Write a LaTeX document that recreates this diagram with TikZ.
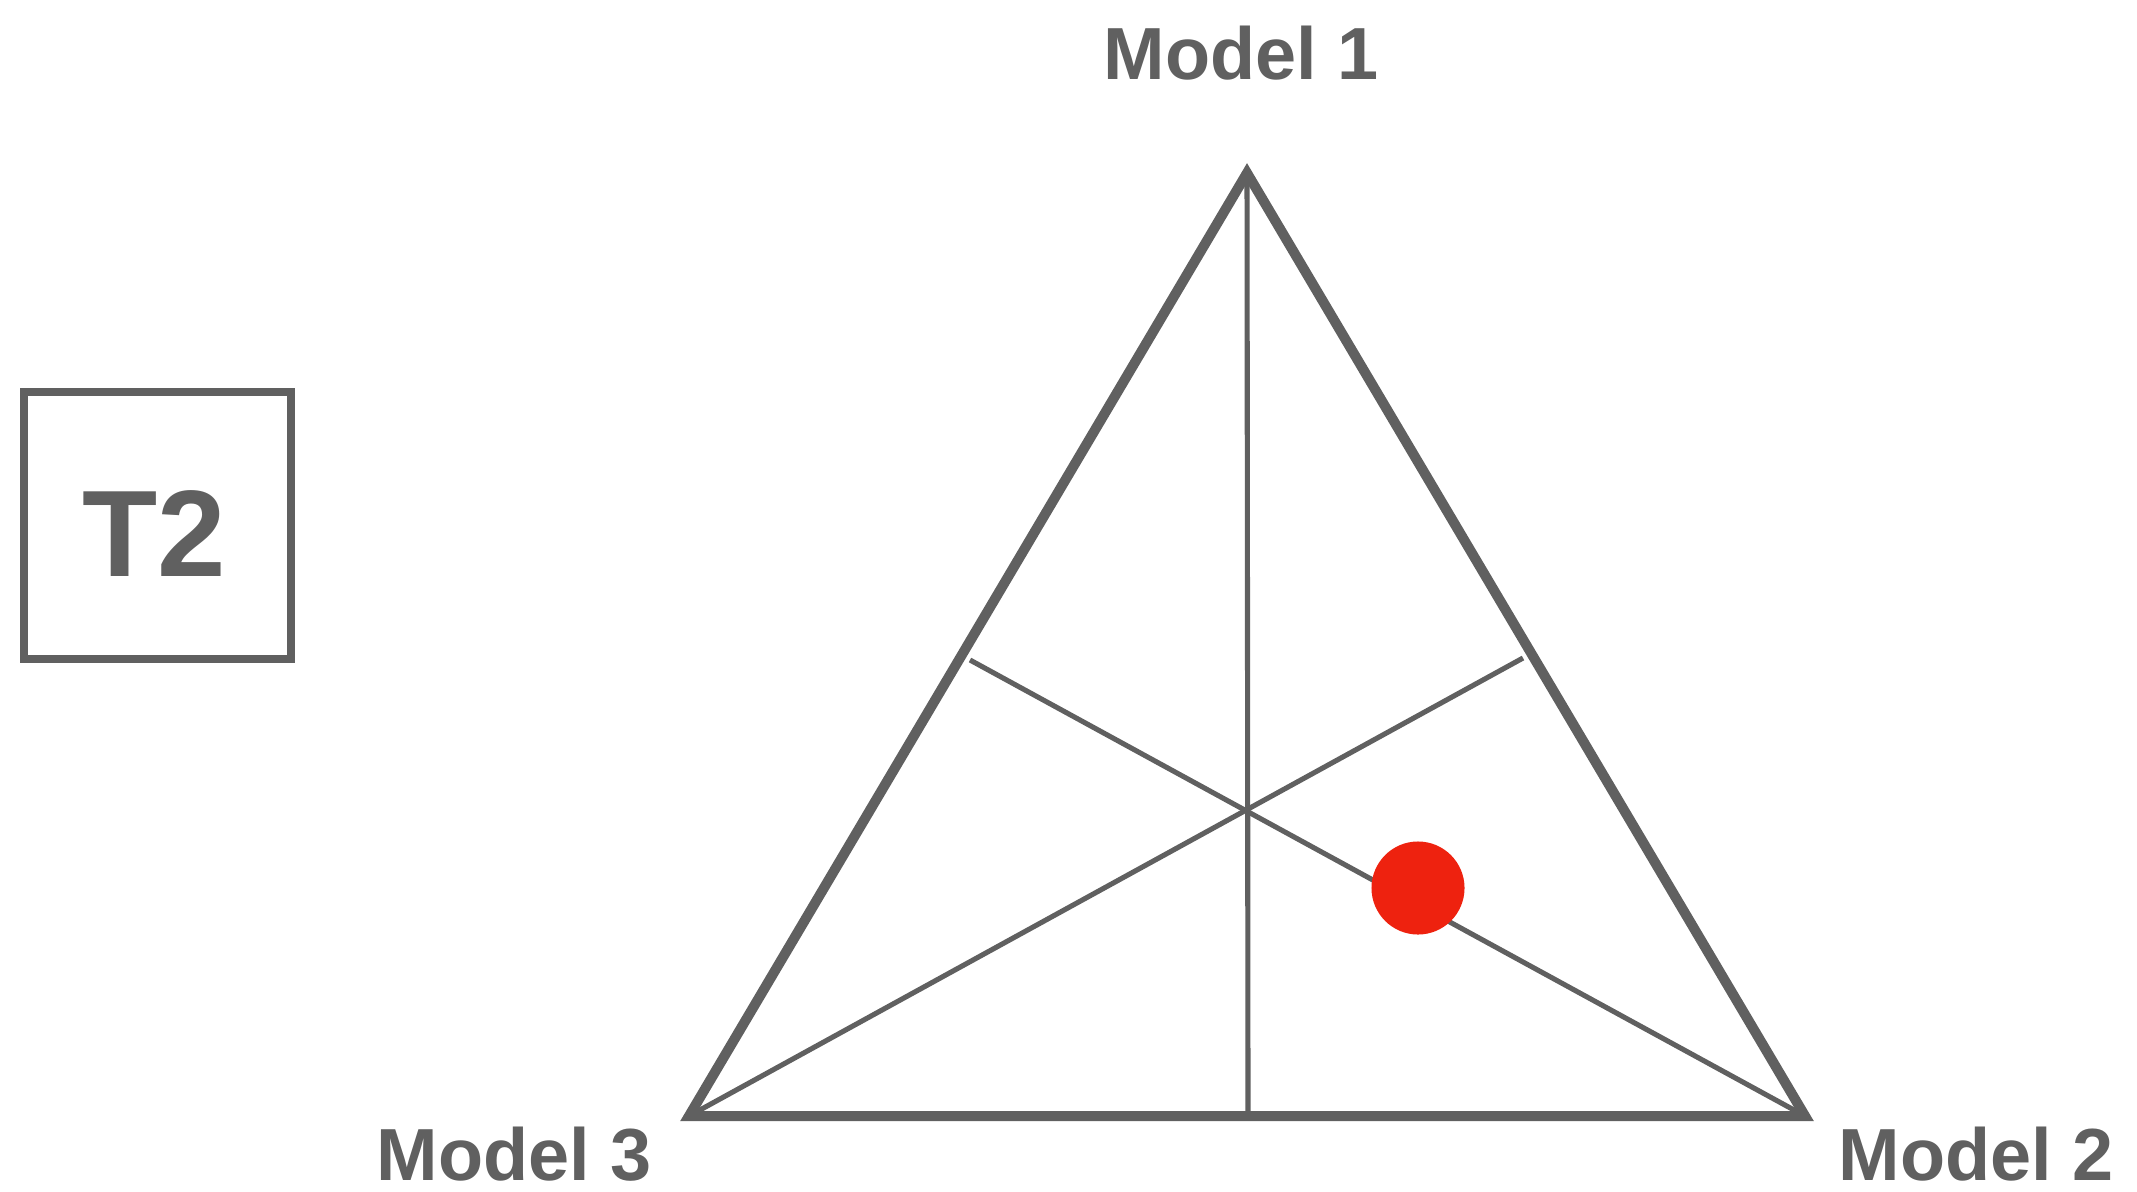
\documentclass[tikz,border=0pt]{standalone}
\usepackage{fontspec}
\setmainfont{Liberation Sans}
\usetikzlibrary{positioning}

\definecolor{linegray}{HTML}{606060}
\definecolor{dotred}{HTML}{EE220F}

\tikzset{
  modellabel/.style={font=\fontsize{21}{24}\selectfont\bfseries, text=linegray, anchor=base, inner sep=0pt},
  outline/.style={draw=linegray, line width=2.85pt, line join=miter},
  median/.style={draw=linegray, line width=1.45pt},
}

\begin{document}
\begin{tikzpicture}[x=0.01cm, y=-0.01cm]

\useasboundingbox (0,0) rectangle (2137,1191);

% corners
\coordinate (m1) at (1247,173);
\coordinate (m2) at (1805,1116);
\coordinate (m3) at (689,1116);

% feet on the sides
\coordinate (footb) at (1248,1116);
\coordinate (footr) at (1523,658);
\coordinate (footl) at (970,660);

\draw[median] (m1) -- (footb);
\draw[median] (m3) -- (footr);
\draw[median] (m2) -- (footl);

\draw[outline] (m1) -- (m2) -- (m3) -- cycle;

% labels
\node[modellabel] (lab1) at (1241,80) {Model 1};
\node[modellabel] (lab2) at (1976,1180) {Model 2};
\node[modellabel] (lab3) at (514,1180) {Model 3};

% T2 box
\draw[draw=linegray, line width=2.3pt] (24,392) rectangle (291,659);
\node[font=\fontsize{35}{40}\selectfont\bfseries, text=linegray, anchor=base, inner sep=0pt] (tlab) at (154,576) {T2};

% point
\node[circle, fill=dotred, minimum size=0.93cm, inner sep=0pt] (dot) at (1418,888) {};

\end{tikzpicture}
\end{document}
